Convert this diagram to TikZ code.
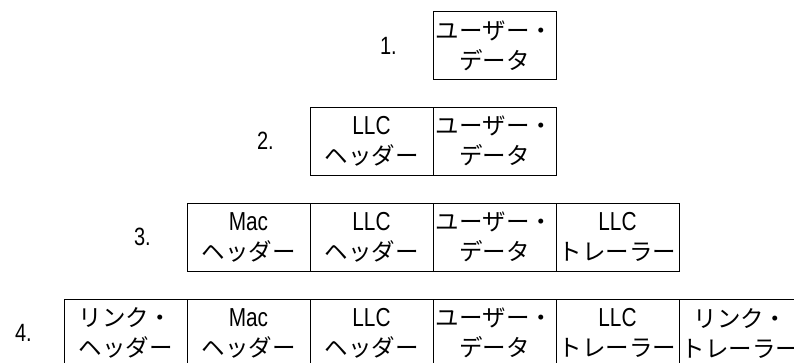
\documentclass[tikz,border=0pt]{standalone}
\usepackage{fontspec}
\setmainfont{Noto Sans CJK JP}
\newfontfamily\latfont[FakeStretch=0.8]{Liberation Sans}
\newcommand{\lat}[1]{{\latfont\fontsize{26}{30}\selectfont #1}}
\usetikzlibrary{positioning}

\begin{document}
\begin{tikzpicture}[x=1pt, y=-1pt,
    cell/.style = {draw, line width=1pt, outer sep=0pt, inner sep=0pt,
        minimum width=123pt, minimum height=68pt, align=center,
        font=\fontsize{23.5}{30}\selectfont},
    num/.style = {inner sep=0pt, font=\latfont\fontsize{25}{25}\selectfont}]
            \useasboundingbox (0,0) rectangle (794,362);
            \clip (0,0) rectangle (794,362);
            % Row 1
            \node[cell] (a1) at (494.5,45.5) {ユーザー・\\データ};
            \node[num] (na) [left=36pt of a1] {1.};
            % Row 2
            \node[cell] (b1) at (371.5,141) {\lat{LLC}\\ヘッダー};
            \node[cell] (b2) [right=0pt of b1] {ユーザー・\\データ};
            \node[num] (nb) [left=36pt of b1] {2.};
            % Row 3
            \node[cell] (c1) at (248.5,237) {\lat{Mac}\\ヘッダー};
            \node[cell] (c2) [right=0pt of c1] {\lat{LLC}\\ヘッダー};
            \node[cell] (c3) [right=0pt of c2] {ユーザー・\\データ};
            \node[cell] (c4) [right=0pt of c3] {\lat{LLC}\\トレーラー};
            \node[num] (nc) [left=36pt of c1] {3.};
            % Row 4
            \node[cell] (d1) at (125.5,333) {リンク・\\ヘッダー};
            \node[cell] (d2) [right=0pt of d1] {\lat{Mac}\\ヘッダー};
            \node[cell] (d3) [right=0pt of d2] {\lat{LLC}\\ヘッダー};
            \node[cell] (d4) [right=0pt of d3] {ユーザー・\\データ};
            \node[cell] (d5) [right=0pt of d4] {\lat{LLC}\\トレーラー};
            \node[cell] (d6) [right=0pt of d5] {リンク・\\トレーラー};
            \node[num] (nd) [left=32pt of d1] {4.};
\end{tikzpicture}
\end{document}
